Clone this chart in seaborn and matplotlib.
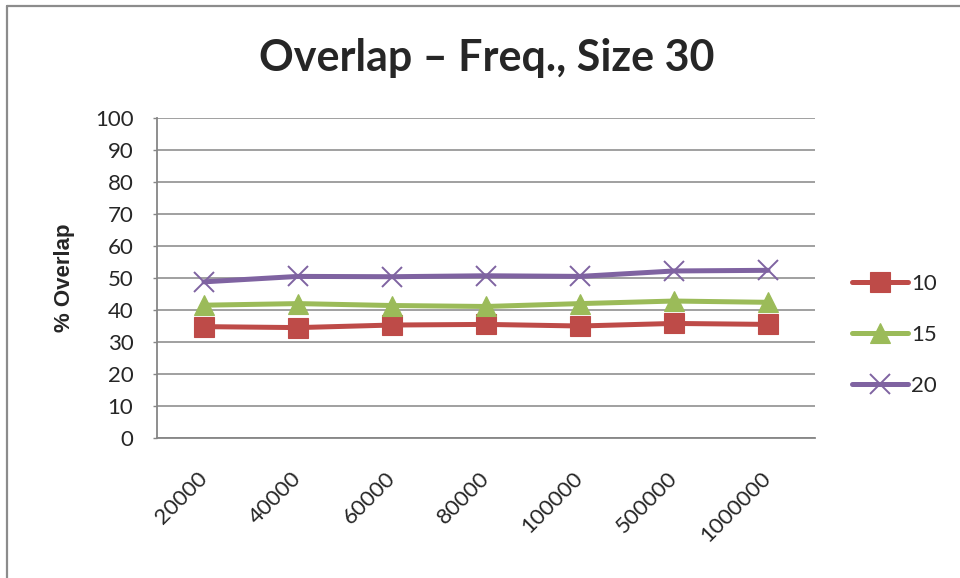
import matplotlib
matplotlib.use("Agg")
import matplotlib.pyplot as plt
from matplotlib.lines import Line2D
import seaborn as sns
import pandas as pd

categories = ["20000", "40000", "60000", "80000", "100000", "500000", "1000000"]
series_10 = [34.8, 34.5, 35.3, 35.5, 35.0, 35.8, 35.5]
series_15 = [41.5, 42.0, 41.4, 41.1, 42.0, 42.8, 42.4]
series_20 = [48.8, 50.5, 50.4, 50.7, 50.5, 52.2, 52.4]
series_names = ["10", "15", "20"]
y_ticks = list(range(0, 101, 10))

sns.set_style("white")
plt.rcParams["font.family"] = ["Lato", "DejaVu Sans"]

colors = {"10": "#BE4B48", "15": "#9BBB59", "20": "#7F63A1"}
markers = {"10": "s", "15": "^", "20": "x"}
W, H = 960, 578

fig = plt.figure(figsize=(W / 100, H / 100), dpi=100)
ax = fig.add_axes([157 / W, 1 - 438 / H, (815 - 157) / W, (438 - 118) / H])

for name, vals in zip(series_names, [series_10, series_15, series_20]):
    df = pd.DataFrame({"freq": categories, "overlap": vals})
    if name == "20":
        kw = dict(markeredgecolor=colors[name], markeredgewidth=1.4, markersize=14)
    else:
        kw = dict(markeredgecolor=colors[name], markeredgewidth=0.8, markersize=14)
    sns.lineplot(data=df, x="freq", y="overlap", color=colors[name], marker=markers[name],
                 sort=False, linewidth=3.6, label=name, ax=ax, **kw)

ax.set_xlim(-0.5, len(categories) - 0.5)
ax.set_ylim(0, 100)
ax.set_yticks(y_ticks)
ax.set_yticklabels([str(t) for t in y_ticks], fontsize=16)
ax.set_xticks(range(len(categories)))
ax.set_xticklabels(categories, rotation=45, ha="right", va="center",
                   rotation_mode="anchor", fontsize=16)
ax.tick_params(axis="x", length=0, pad=27)
ax.tick_params(axis="y", length=3, width=1, color="#868686", direction="out", left=True, pad=14)
ax.yaxis.grid(True, color="#868686", linewidth=1.1)
ax.set_axisbelow(True)
for s in ["top", "right"]:
    ax.spines[s].set_visible(False)
for s in ["left", "bottom"]:
    ax.spines[s].set_color("#868686")
    ax.spines[s].set_linewidth(1.3)
ax.set_xlabel("")
ax.set_ylabel("% Overlap", fontsize=16, fontweight="bold", labelpad=14,
              family=["Liberation Sans", "DejaVu Sans"])

handles, labels = ax.get_legend_handles_labels()
ax.legend(handles, labels, loc="center left", bbox_to_anchor=(852 / W, 1 - 335 / H),
          bbox_transform=fig.transFigure, frameon=False, fontsize=16,
          handlelength=2.5, labelspacing=1.4, handletextpad=0.15, borderaxespad=0,
          borderpad=0)

fig.suptitle("Overlap – Freq., Size 30", x=487 / W, y=1 - 58 / H, va="center",
             fontsize=31, fontweight="bold")

# chart frame (left and top edges)
frame_kw = dict(transform=fig.transFigure, color="#8C8C8C", linewidth=1.6)
fig.lines.append(Line2D([7 / W, 7 / W], [0, 1 - 6 / H], **frame_kw))
fig.lines.append(Line2D([7 / W, 1], [1 - 6 / H, 1 - 6 / H], **frame_kw))

fig.savefig("out.png", dpi=100)
